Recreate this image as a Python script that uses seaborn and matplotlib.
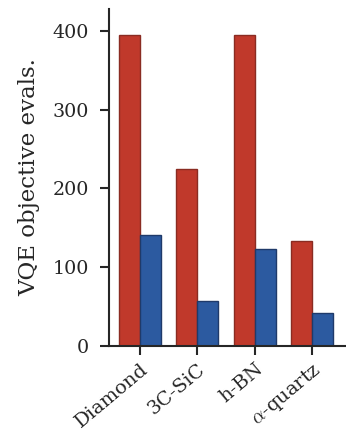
import matplotlib
matplotlib.use("Agg")
import matplotlib.pyplot as plt
import seaborn as sns
import pandas as pd

materials = ["Diamond", "3C-SiC", "h-BN", r"$\alpha$-quartz"]
series_names = ["Baseline", "Ours"]
baseline_vals = [394, 225, 395, 133]
ours_vals = [141, 57, 123, 42]

colors = ["#c0392b", "#2c5aa0"]
edge_colors = ["#8a2c22", "#1f3a6a"]

df = pd.DataFrame({
    "material": materials * 2,
    "method": [series_names[0]] * 4 + [series_names[1]] * 4,
    "evals": baseline_vals + ours_vals,
})

sns.set_style("ticks")
plt.rcParams["font.family"] = ["DejaVu Serif"]
plt.rcParams["mathtext.fontset"] = "cm"

fig, ax = plt.subplots(figsize=(3.46, 4.30), dpi=100)
sns.barplot(data=df, x="material", y="evals", hue="method", order=materials,
            hue_order=series_names, palette=colors, width=0.73, ax=ax,
            legend=False, saturation=1)

for i, cont in enumerate(ax.containers):
    for p in cont:
        p.set_edgecolor(edge_colors[i])
        p.set_linewidth(1.0)

ax.set_ylim(0, 428)
ax.set_xlim(-0.54, 3.58)
ax.set_yticks([0, 100, 200, 300, 400])
ax.set_xlabel("")
ax.set_ylabel("VQE objective evals.", fontsize=16.5, labelpad=9)
ax.tick_params(axis="y", labelsize=13.7, width=1.5, length=6.5, pad=8)
ax.tick_params(axis="x", labelsize=14, width=1.5, length=6.5)
plt.setp(ax.get_xticklabels(), rotation=40, ha="right", rotation_mode="anchor")
for s in ["left", "bottom"]:
    ax.spines[s].set_linewidth(1.5)
sns.despine(ax=ax)

fig.subplots_adjust(left=0.315, right=0.998, top=0.98, bottom=0.195)
fig.savefig("out.png", dpi=100)
